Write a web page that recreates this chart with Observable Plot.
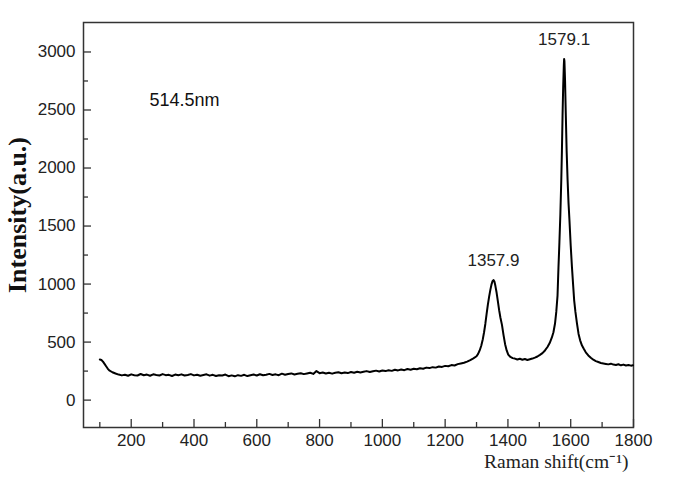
<!DOCTYPE html>
<html>
<head>
<meta charset="utf-8">
<script src="https://cdn.jsdelivr.net/npm/d3@7"></script>
<script src="https://cdn.jsdelivr.net/npm/@observablehq/plot@0.6"></script>
<style>
  html, body { margin: 0; padding: 0; background: #fff; }
  #chart svg { display: block; }
</style>
</head>
<body>
<div id="chart"></div>
<script>
// Raman spectrum, excitation 514.5 nm
const ramanShift = [
  100,105,110,115,120,125,130,140,150,160,170,180,190,200,210,220,230,240,250,260,
  270,280,290,300,310,320,330,340,350,360,370,380,390,400,410,420,430,440,450,460,
  470,480,490,500,510,520,530,540,550,560,570,580,590,600,610,620,630,640,650,660,
  670,680,690,700,710,720,730,740,750,760,770,780,790,800,810,820,830,840,850,860,
  870,880,890,900,910,920,930,940,950,960,970,980,990,1000,1010,1020,1030,1040,1050,1060,
  1070,1080,1090,1100,1110,1120,1130,1140,1150,1160,1170,1180,1190,1200,1210,1220,1230,1240,1250,1260,
  1270,1280,1290,1300,1305,1310,1315,1320,1324,1328,1332,1336,1340,1344,1348,1351,1354,1357,1360,1364,
  1368,1372,1376,1381,1386,1391,1396,1401,1408,1415,1422,1430,1438,1446,1454,1462,1470,1478,1486,1494,
  1502,1510,1518,1526,1533,1540,1545,1550,1554,1558,1561,1564,1567,1570,1572,1574,1576,1578,1579,1580,
  1582,1584,1587,1590,1593,1596,1600,1604,1608,1611,1615,1620,1625,1630,1636,1642,1648,1656,1664,1672,
  1680,1688,1696,1704,1712,1720,1728,1736,1744,1752,1760,1768,1776,1784,1792,1798
];
const intensity = [
  350,346,332,312,292,272,256,240,229,220,213,219,210,222,215,212,225,214,220,210,
  222,216,212,224,215,218,208,220,214,222,212,217,224,213,219,210,216,222,211,218,
  208,215,212,220,206,213,205,215,209,218,207,214,220,212,223,214,219,226,216,222,
  215,228,219,225,230,221,227,232,224,230,236,226,250,232,238,229,235,228,236,240,
  232,238,233,242,236,245,238,244,250,242,248,254,246,255,250,258,252,262,256,264,
  258,268,262,270,266,275,270,280,276,284,280,290,286,295,292,302,298,310,316,322,
  332,345,360,378,398,428,468,525,585,656,740,820,890,950,1000,1025,1035,1022,985,925,
  850,775,712,648,560,482,428,392,372,362,358,350,356,348,354,346,352,358,366,376,
  390,405,428,458,492,540,585,660,760,900,1144,1360,1600,1900,2150,2450,2700,2880,2940,2920,
  2750,2500,2150,1900,1700,1550,1330,1144,980,860,760,660,570,515,470,440,412,385,365,348,
  336,328,320,316,312,308,314,306,303,309,300,306,298,302,297,300
];
const xMajorTicks = [200,400,600,800,1000,1200,1400,1600,1800];
const xMinorTicks = [100,300,500,700,900,1100,1300,1500,1700];
const yMajorTicks = [0,500,1000,1500,2000,2500,3000];
const yMinorTicks = [250,750,1250,1750,2250,2750];
const peakLabels = ["1357.9","1579.1"];
const peakX = [1354, 1579];
const peakY = [1035, 2940];
const noteText = ["514.5nm"];
const noteX = [370];
const noteY = [2585];

const spectrum = ramanShift.map((x, i) => ({x, y: intensity[i]}));
const peaks = peakLabels.map((t, i) => ({t, x: peakX[i], y: peakY[i]}));
const notes = noteText.map((t, i) => ({t, x: noteX[i], y: noteY[i]}));

const sans = "Liberation Sans, Arial, sans-serif";
const serif = "Liberation Serif, Times New Roman, serif";
const axisColor = "#333";

const chart = Plot.plot({
  width: 674,
  height: 484,
  marginLeft: 83,
  marginRight: 41,
  marginTop: 22,
  marginBottom: 57,
  style: {background: "#fff", fontFamily: sans},
  x: {domain: [48, 1800]},
  y: {domain: [-236, 3254]},
  marks: [
    Plot.frame({stroke: axisColor, strokeWidth: 1.5}),
    Plot.axisX({ticks: xMajorTicks, tickSize: -8, tickPadding: 14, tickFormat: d => String(d),
      fontSize: 17, fill: "#222", stroke: axisColor, strokeWidth: 1.3, label: null}),
    Plot.axisX({ticks: xMinorTicks, tickSize: -5, tickPadding: 0, tickFormat: () => "",
      stroke: axisColor, strokeWidth: 1.3, label: null}),
    Plot.axisY({ticks: yMajorTicks, tickSize: -8, tickPadding: 16, tickFormat: d => String(d),
      fontSize: 17, fill: "#222", stroke: axisColor, strokeWidth: 1.3, label: null}),
    Plot.axisY({ticks: yMinorTicks, tickSize: -5, tickPadding: 0, tickFormat: () => "",
      stroke: axisColor, strokeWidth: 1.3, label: null}),
    Plot.line(spectrum, {x: "x", y: "y", stroke: "#000", strokeWidth: 2, strokeLinejoin: "round"}),
    Plot.text(peaks, {x: "x", y: "y", text: "t", dy: -19, fontSize: 17, fill: "#222", fontFamily: sans}),
    Plot.text(notes, {x: "x", y: "y", text: "t", fontSize: 18, fill: "#111", fontFamily: sans}),
    Plot.text(["Intensity(a.u.)"], {frameAnchor: "left", textAnchor: "middle", rotate: -90, dx: -66, dy: -10,
      fontSize: 26, fontWeight: "bold", fontFamily: serif, fill: "#111"}),
    Plot.text(["Raman shift(cm\u207B\u00B9)"], {frameAnchor: "bottom-right", textAnchor: "end", dx: -5, dy: 40,
      fontSize: 19.5, fontFamily: serif, fill: "#222"})
  ]
});
document.getElementById("chart").appendChild(chart);
</script>
</body>
</html>
